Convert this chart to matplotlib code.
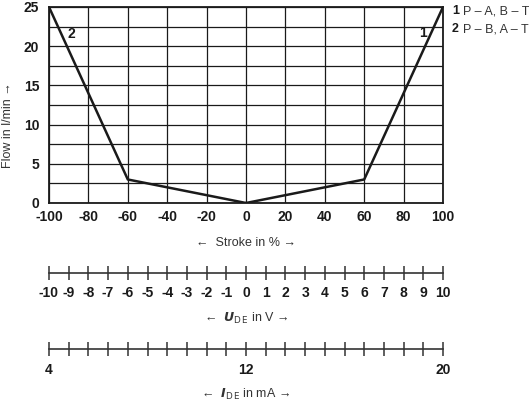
import numpy as np
import matplotlib
matplotlib.use("Agg")
from matplotlib import pyplot as plt

# curve data (stroke in %, flow in l/min)
stroke_1 = [0, 60, 100]
flow_1 = [0, 3, 25]
stroke_2 = [-100, -60, 0]
flow_2 = [25, 3, 0]

stroke_ticks = [-100, -80, -60, -40, -20, 0, 20, 40, 60, 80, 100]
flow_ticks = [0, 5, 10, 15, 20, 25]
volt_ticks = list(range(-10, 11))
ma_ticks = [4 + 0.8 * i for i in range(21)]
ma_labels = ["4"] + [""] * 9 + ["12"] + [""] * 9 + ["20"]
legend_lines = [("1", "P – A, B – T"), ("2", "P – B, A – T")]

plt.rcParams["axes.unicode_minus"] = False
FAM = ["Liberation Sans", "DejaVu Sans"]
INK = "#1a1a1a"
GREY = "#333333"
TICK_FS = 10
TXT_FS = 9

fig = plt.figure(figsize=(5.29, 4.04), dpi=100)
W, H = 529, 404


def fx(px):
    return px / W


def fy(py):
    return 1 - py / H


x0, x1 = 49, 443
ax = fig.add_axes([fx(x0), fy(203), fx(x1 - x0), fy(7) - fy(203)])
ax.plot(stroke_1, flow_1, color=INK, lw=1.8, zorder=3)
ax.plot(stroke_2, flow_2, color=INK, lw=1.8, zorder=3)
ax.set_xlim(-100, 100)
ax.set_ylim(0, 25)
ax.set_xticks(stroke_ticks)
ax.set_xticklabels([str(v) for v in stroke_ticks])
ax.set_yticks(flow_ticks)
ax.set_yticks(np.arange(0, 25.1, 2.5), minor=True)
ax.grid(True, which="both", color=INK, lw=0.9)
ax.tick_params(which="both", length=0)
ax.tick_params(axis="x", pad=5)
ax.tick_params(axis="y", pad=7)
for s in ax.spines.values():
    s.set_linewidth(1.3)
    s.set_color(INK)
for lab in ax.get_xticklabels() + ax.get_yticklabels():
    lab.set_family(FAM)
    lab.set_weight("bold")
    lab.set_fontsize(TICK_FS)
    lab.set_color(INK)
ax.text(-88.5, 21.5, "2", family=FAM, weight="bold", fontsize=TICK_FS,
        color=INK, ha="center", va="center")
ax.text(90, 21.7, "1", family=FAM, weight="bold", fontsize=TICK_FS,
        color=INK, ha="center", va="center")

fig.text(fx(8), fy(125), "Flow in l/min →", rotation=90, family=FAM,
         fontsize=TXT_FS, color=GREY, ha="center", va="center")
fig.text(fx(246), fy(243), "←  Stroke in % →", family=FAM, fontsize=TXT_FS,
         color=GREY, ha="center", va="center")

for i, (num, txt) in enumerate(legend_lines):
    yy = fy(11 + 18 * i)
    fig.text(fx(452), yy, num, family=FAM, weight="bold", fontsize=TXT_FS,
             color=INK, va="center")
    fig.text(fx(463), yy, txt, family=FAM, fontsize=TXT_FS, color=GREY,
             va="center")


def scale_axis(ypx, lo, hi, ticks, labels):
    a = fig.add_axes([fx(x0), fy(ypx), fx(x1 - x0), 0.0001])
    a.set_xlim(lo, hi)
    a.set_yticks([])
    for k in ["left", "right", "top"]:
        a.spines[k].set_visible(False)
    a.spines["bottom"].set_linewidth(1.2)
    a.spines["bottom"].set_color(GREY)
    a.set_xticks(ticks)
    a.set_xticklabels(labels)
    a.tick_params(axis="x", direction="inout", length=10, width=1.1,
                  color=GREY, pad=5)
    for lab in a.get_xticklabels():
        lab.set_family(FAM)
        lab.set_weight("bold")
        lab.set_fontsize(TICK_FS)
        lab.set_color(INK)
    a.patch.set_visible(False)
    return a


scale_axis(272.5, -10, 10, volt_ticks, [str(v) for v in volt_ticks])
fig.text(fx(246), fy(318), r"←  $\mathbfit{U}_{\mathrm{D\,E}}$ in V →",
         family=FAM, fontsize=TXT_FS, color=GREY, ha="center", va="center")

scale_axis(349, 4, 20, ma_ticks, ma_labels)
fig.text(fx(246), fy(394), r"←  $\mathbfit{I}_{\mathrm{D\,E}}$ in mA →",
         family=FAM, fontsize=TXT_FS, color=GREY, ha="center", va="center")

fig.savefig("out.png", dpi=100)
